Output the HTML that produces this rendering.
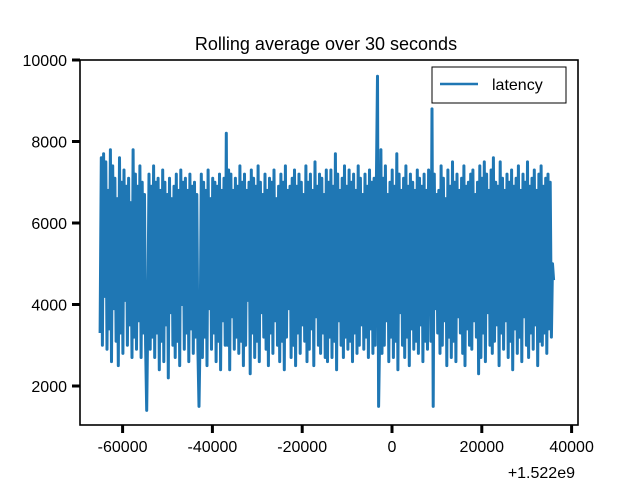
<!DOCTYPE html>
<html><head><meta charset="utf-8"><style>
body{margin:0;background:#fff;}
svg{display:block;font-family:"Liberation Sans",sans-serif;}
</style></head><body>
<svg id="chart" width="640" height="480" viewBox="0 0 640 480">
<text x="326" y="50" font-size="18" text-anchor="middle">Rolling average over 30 seconds</text>
<g id="plot"></g>
<rect x="80" y="60" width="498" height="365" fill="none" stroke="#000" stroke-width="1.6"/>
<g id="yticks"></g>
<g id="xticks"></g>
<text x="575" y="478" font-size="16" text-anchor="end">+1.522e9</text>
<g>
<rect x="432" y="67" width="134" height="36" fill="#fff" stroke="#000" stroke-width="1"/>
<line x1="440" y1="84" x2="478" y2="84" stroke="#1f77b4" stroke-width="2.5"/>
<text x="492" y="90" font-size="16">latency</text>
</g>
</svg>
<script>
const tStart = -65000, tEnd = 36000;
const latency = [
3300,7600,3000,7700,4200,7500,2900,6800,3400,7800,
2600,7400,3900,7100,3100,6600,2500,7600,3300,7000,
2800,7300,4100,6900,3000,7100,3500,6500,2700,7800,
3200,7200,2900,6900,3600,7400,2700,7000,3300,6700,
3000,1400,3900,7200,2900,6900,3200,7400,2700,7000,
3300,7100,2400,6800,3100,7300,2600,7000,3500,6700,
2200,7100,3800,6600,3000,6900,2700,7200,3100,6800,
2500,7300,4000,7000,2900,7100,3300,6800,2600,7200,
3400,6900,2800,7000,3200,6700,2900,1500,3400,7200,
2700,7000,3200,6800,2500,7300,3900,6600,2900,7100,
3300,7000,2600,6900,3100,7200,2400,6800,3600,7100,
3000,8200,3000,7300,2400,7200,3700,6800,2900,7100,
3200,6900,2800,7400,3100,7000,2500,7200,3000,6800,
4100,7000,2300,7300,3300,7100,2700,6900,3100,7400,
2600,7000,3800,6700,3200,7200,2900,6800,2500,7100,
3300,7000,2800,7300,3600,6600,3000,6900,2600,7200,
3100,7000,2400,7400,3200,6800,3900,6900,2700,7100,
3000,7300,2500,6900,3300,7200,2800,7000,3500,6700,
3100,7400,2600,7000,2900,7200,3400,6800,2500,7500,
3700,6900,3000,7200,2800,7100,3300,6700,2700,7300,
2600,7000,3200,7300,2700,6900,3100,7700,2400,7200,
3600,6800,3000,7100,2700,7400,3200,6900,2900,7300,
3100,7000,2600,7200,3300,6800,2800,7400,3000,7100,
3500,6700,2900,7200,3200,6900,2700,7300,3400,7000,
2800,7100,3000,6800,9600,1500,3300,7800,2800,7100,
3000,7400,3600,6700,2600,7000,3200,7300,2700,6900,
3100,7700,2400,7200,3800,6800,3000,7100,2700,7400,
3200,6900,2500,7200,3400,7000,2900,6800,3100,7300,
2800,7100,3500,6900,2600,7200,3100,6800,2900,7300,
6800,3100,8800,1500,7200,3900,6700,3300,6800,2800,
7400,3000,7100,3600,6600,2500,7300,3200,6900,2700,
7500,3100,7000,2600,7200,3700,6800,3300,7100,2800,
7400,2500,6900,3400,7000,3000,7200,2900,7300,3600,
6700,3200,7000,2300,7400,2700,7100,3300,7500,2600,
7200,3800,6800,3000,7300,2800,7600,3100,7000,3500,
6900,2500,7500,3300,7100,2900,6800,3600,7200,2700,
7000,3100,7300,2400,6900,3400,7100,2800,7400,3200,
6800,2600,7200,3700,7000,3000,7500,2700,6900,3300,
7100,2900,7300,3500,6800,2500,7200,3100,7400,3000,
6900,3300,7100,2800,7200,3400,7000,3200,5000,4600];
const yTicks = [2000,4000,6000,8000,10000];
const xTicks = [-60000,-40000,-20000,0,20000,40000];
const xTickLabels = ["-60000","-40000","-20000","0","20000","40000"];

const NS="http://www.w3.org/2000/svg";
function X(t){return 392 + t*(572-123)/100000;}
function Y(v){return 386 - (v-2000)*(386-60)/8000;}
function mk(tag,attrs){const e=document.createElementNS(NS,tag);for(const k in attrs)e.setAttribute(k,attrs[k]);return e;}

const plot=document.getElementById('plot');
const step=(tEnd-tStart)/(latency.length-1);
let d='';
latency.forEach((v,i)=>{d+=(i?'L':'M')+X(tStart+i*step).toFixed(1)+','+Y(v).toFixed(1);});
const line=mk('path',{d:d,fill:'none',stroke:'#1f77b4','stroke-width':3,'stroke-linejoin':'round'});


plot.appendChild(line);

const yg=document.getElementById('yticks');
yTicks.forEach(v=>{
  const t=mk('line',{x1:72,x2:80,y1:Y(v),y2:Y(v),stroke:'#000','stroke-width':3});
  
  
  yg.appendChild(t);
  const l=mk('text',{x:67,y:Y(v)+6,'font-size':16,'text-anchor':'end'});
  
  
  l.textContent=v; yg.appendChild(l);
});
const xg=document.getElementById('xticks');
xTicks.forEach((v,i)=>{
  const t=mk('line',{x1:X(v),x2:X(v),y1:425,y2:433,stroke:'#000','stroke-width':3});
  
  
  xg.appendChild(t);
  const l=mk('text',{x:X(v),y:452,'font-size':16,'text-anchor':'middle'});
  
  
  l.textContent=xTickLabels[i]; xg.appendChild(l);
});
</script>
</body></html>
